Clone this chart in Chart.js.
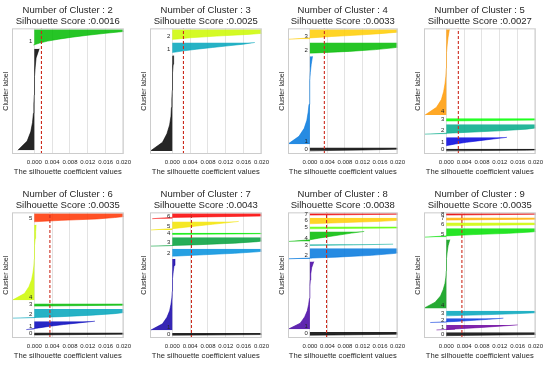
<!DOCTYPE html>
<html>
<head>
<meta charset="utf-8">
<script src="https://cdn.jsdelivr.net/npm/chart.js@4.4.1/dist/chart.umd.min.js"></script>
<style>
  html, body { margin: 0; padding: 0; background: #fff; }
  #wrap { position: relative; width: 550px; height: 365px; overflow: hidden; }
  #wrap canvas { position: absolute; }
</style>
</head>
<body>
<div id="wrap"></div>
<script>
// one panel per number of clusters
const clusterCounts = [2, 3, 4, 5, 6, 7, 8, 9];
const silhouetteScores = [0.0016, 0.0025, 0.0033, 0.0027, 0.0035, 0.0043, 0.0038, 0.0035];
const xTicks = [0, 0.004, 0.008, 0.012, 0.016, 0.020];

// band height of each cluster (cluster 0 first = bottom band)
const sizesK2 = [305, 47];
const sizesK3 = [284, 30, 30];
const sizesK4 = [10, 264, 32, 30];
const sizesK5 = [6, 25, 30, 8, 257];
const sizesK6 = [7, 25, 27, 8, 225, 25];
const sizesK7 = [7, 213, 22, 27, 5, 26, 16];
const sizesK8 = [10, 202, 32, 4, 30, 7, 18, 5];
const sizesK9 = [10, 15, 13, 15, 205, 27, 10, 8, 5];

// sorted silhouette values of each cluster, read bottom -> top of its band
const valuesK2 = [
  [-0.0037, -0.0016, -0.0008, -0.0004, -0.0002, -0.0001, 0.0, 0.0, 0.0001, 0.0002, 0.0004, 0.0011],
  [-0.0002, 0.0012, 0.0030, 0.0055, 0.0085, 0.0120, 0.0160, 0.0205, 0.0260]
];
const valuesK3 = [
  [-0.0049, -0.0022, -0.0012, -0.0006, -0.0003, -0.0002, -0.0001, 0.0, 0.0, 0.0001, 0.0002, 0.0003],
  [0.0, 0.0025, 0.0055, 0.0090, 0.0125, 0.0160, 0.0185],
  [0.0, 0.004, 0.010, 0.017, 0.022, 0.025, 0.027]
];
const valuesK4 = [
  [0.0, 0.012, 0.020, 0.024, 0.027],
  [-0.0051, -0.0025, -0.0013, -0.0007, -0.0004, -0.0002, -0.0001, 0.0, 0.0, 0.0001, 0.0003, 0.0006],
  [0.0, 0.009, 0.015, 0.019, 0.022, 0.025, 0.027],
  [-0.0052, 0.0, 0.005, 0.011, 0.016, 0.020, 0.024, 0.027]
];
const valuesK5 = [
  [0.0, 0.018, 0.024, 0.027],
  [0.0, 0.002, 0.0045, 0.0075, 0.0105, 0.0136],
  [-0.0048, 0.004, 0.012, 0.018, 0.021, 0.024, 0.026],
  [0.0, 0.020, 0.025, 0.027],
  [-0.0048, -0.0022, -0.0011, -0.0006, -0.0003, -0.0001, 0.0, 0.0, 0.0001, 0.0002, 0.0004, 0.0007]
];
const valuesK6 = [
  [0.0, 0.020, 0.025, 0.027],
  [-0.0018, 0.001, 0.0035, 0.0065, 0.010, 0.0136],
  [-0.0050, 0.006, 0.013, 0.018, 0.021, 0.024, 0.026],
  [0.0, 0.020, 0.025, 0.027],
  [-0.0050, -0.0022, -0.0012, -0.0006, -0.0003, -0.0001, 0.0, 0.0, 0.0001, 0.0002, 0.0003, 0.0004],
  [0.0, 0.006, 0.014, 0.018, 0.021, 0.024, 0.027]
];
const valuesK7 = [
  [0.0, 0.020, 0.025, 0.027],
  [-0.0049, -0.0022, -0.0012, -0.0006, -0.0003, -0.0001, 0.0, 0.0, 0.0001, 0.0002, 0.0004, 0.0006],
  [0.0, 0.007, 0.014, 0.019, 0.022, 0.025],
  [-0.0053, 0.006, 0.014, 0.019, 0.022, 0.025, 0.027],
  [0.0, 0.022, 0.027],
  [-0.0052, 0.0, 0.003, 0.006, 0.009, 0.012, 0.0149],
  [-0.0045, 0.0, 0.020, 0.025, 0.027]
];
const valuesK8 = [
  [0.0, 0.020, 0.025, 0.027],
  [-0.0050, -0.0022, -0.0012, -0.0006, -0.0003, -0.0001, 0.0, 0.0, 0.0001, 0.0002, 0.0004, 0.0009],
  [-0.0054, 0.006, 0.014, 0.019, 0.022, 0.025, 0.027],
  [0.0, 0.010, 0.019],
  [-0.0050, 0.0, 0.002, 0.0045, 0.007, 0.0095, 0.0124],
  [0.0, 0.020, 0.025, 0.027],
  [0.0, 0.008, 0.016, 0.021, 0.025, 0.027],
  [0.0, 0.022, 0.027]
];
const valuesK9 = [
  [0.0, 0.020, 0.025, 0.027],
  [-0.0022, 0.003, 0.008, 0.012, 0.016],
  [-0.0036, 0.002, 0.006, 0.0095, 0.0128],
  [0.0, 0.008, 0.015, 0.020, 0.024, 0.027],
  [-0.0051, -0.0025, -0.0013, -0.0007, -0.0003, -0.0001, 0.0, 0.0, 0.0001, 0.0002, 0.0004, 0.0008],
  [-0.0051, 0.0, 0.006, 0.014, 0.019, 0.022, 0.025, 0.027],
  [0.0, 0.020, 0.025, 0.027],
  [0.0, 0.020, 0.025, 0.027],
  [0.0, 0.022, 0.027]
];

const allSizes = [sizesK2, sizesK3, sizesK4, sizesK5, sizesK6, sizesK7, sizesK8, sizesK9];
const allValues = [valuesK2, valuesK3, valuesK4, valuesK5, valuesK6, valuesK7, valuesK8, valuesK9];

// layout of the 4x2 grid
const bandGap = [11, 9, 9.5, 9.5, 9, 8, 8, 7];
const colLeft = [12, 149.5, 287.5, 424];
const axesWidth = [114, 114, 112, 114];
const rowTop = [0, 184];
const FONT = "'Liberation Sans', Arial, sans-serif";
const TEXT = '#262626';

Chart.defaults.font.family = FONT;

// nipy_spectral colormap anchors (0, 0.05, ..., 1)
const specR = [0, .4667, .5333, 0, 0, 0, 0, 0, 0, 0, 0, 0, 0, .7333, .9333, 1, 1, 1, .8667, .8, .8];
const specG = [0, 0, 0, 0, 0, .4667, .6, .6667, .6667, .6, .7333, .8667, 1, 1, .9333, .8, .6, 0, 0, 0, .8];
const specB = [0, .5333, .6, .6667, .8667, .8667, .8667, .6667, .5333, 0, 0, 0, 0, 0, 0, 0, 0, 0, 0, 0, .8];

function spectral(t, alpha) {
  const p = Math.min(t, 1) * 20;
  const i = Math.min(Math.floor(p), 19);
  const f = p - i;
  const c = arr => Math.round((arr[i] + (arr[i + 1] - arr[i]) * f) * 255);
  return `rgba(${c(specR)}, ${c(specG)}, ${c(specB)}, ${alpha})`;
}

const wrap = document.getElementById('wrap');

clusterCounts.forEach((k, p) => {
  const sizes = allSizes[p];
  const values = allValues[p];
  const gap = bandGap[p];
  const col = p % 4;
  const row = Math.floor(p / 4);

  // build one filled dataset per cluster, stacked like a silhouette plot
  const datasets = [];
  const bandLabels = [];
  let yLower = gap;
  for (let i = 0; i < k; i++) {
    const vals = values[i];
    const size = sizes[i];
    datasets.push({
      data: vals.map((v, j) => ({ x: v, y: yLower + size * j / (vals.length - 1) })),
      borderColor: spectral(i / k, 0.95),
      backgroundColor: spectral(i / k, 0.85),
      borderWidth: 0.6,
      pointRadius: 0,
      fill: 'origin',
      order: 1
    });
    bandLabels.push({ text: String(i), y: yLower + Math.min(size / 2, 10) });
    yLower += size + gap;
  }
  const yMax = yLower - gap + 3;

  // average silhouette score
  datasets.push({
    data: [{ x: silhouetteScores[p], y: 0 }, { x: silhouetteScores[p], y: yMax }],
    borderColor: '#cc2a1c',
    borderWidth: 1.1,
    borderDash: [3, 2],
    pointRadius: 0,
    fill: false,
    order: 0
  });

  const canvas = document.createElement('canvas');
  const w = 14 + axesWidth[col] + 10;
  const h = 180;
  canvas.width = w;
  canvas.height = h;
  canvas.style.left = (colLeft[col] - 14) + 'px';
  canvas.style.top = rowTop[row] + 'px';
  canvas.style.width = w + 'px';
  canvas.style.height = h + 'px';
  wrap.appendChild(canvas);

  const decorations = {
    id: 'decorations' + k,
    afterDatasetsDraw(chart) {
      const { ctx, chartArea: a, scales } = chart;
      ctx.save();
      ctx.strokeStyle = '#cccccc';
      ctx.lineWidth = 1;
      ctx.strokeRect(a.left + 0.5, a.top + 0.5, a.right - a.left - 1, a.bottom - a.top - 1);
      ctx.fillStyle = TEXT;
      ctx.font = '6px ' + FONT;
      ctx.textAlign = 'right';
      ctx.textBaseline = 'middle';
      const x0 = scales.x.getPixelForValue(0) - 2;
      bandLabels.forEach(l => ctx.fillText(l.text, x0, scales.y.getPixelForValue(l.y)));
      ctx.restore();
    }
  };

  new Chart(canvas, {
    type: 'line',
    data: { datasets },
    options: {
      indexAxis: 'y',
      responsive: false,
      animation: false,
      devicePixelRatio: 1,
      layout: { padding: { left: 0, right: 10, top: 0, bottom: 0 } },
      plugins: {
        legend: { display: false },
        tooltip: { enabled: false },
        title: {
          display: true,
          fullSize: false,
          text: ['Number of Cluster : ' + k, 'Silhouette Score :' + silhouetteScores[p].toFixed(4)],
          color: TEXT,
          font: { size: 9.5, weight: 'normal', lineHeight: 1.15 },
          padding: { top: 4.5, bottom: 2 }
        }
      },
      scales: {
        x: {
          type: 'linear',
          min: -0.005,
          max: 0.02,
          afterBuildTicks: scale => { scale.ticks = xTicks.map(v => ({ value: v })); },
          afterFit: scale => { scale.height = 26; },
          ticks: {
            color: TEXT,
            font: { size: 6 },
            padding: 5,
            maxRotation: 0,
            autoSkip: false,
            callback: v => Number(v).toFixed(3)
          },
          grid: { color: '#dcdcdc', lineWidth: 0.8, drawTicks: false },
          border: { display: false },
          title: {
            display: true,
            text: 'The silhouette coefficient values',
            color: TEXT,
            font: { size: 7.6 },
            padding: { top: 0, bottom: 3.5 }
          }
        },
        y: {
          type: 'linear',
          min: 0,
          max: yMax,
          afterFit: scale => { scale.width = 14; },
          ticks: { display: false },
          grid: { display: false },
          border: { display: false },
          title: {
            display: true,
            text: 'Cluster label',
            color: TEXT,
            font: { size: 7 },
            padding: { top: 3.8, bottom: 0 }
          }
        }
      }
    },
    plugins: [decorations]
  });
});
</script>
</body>
</html>
